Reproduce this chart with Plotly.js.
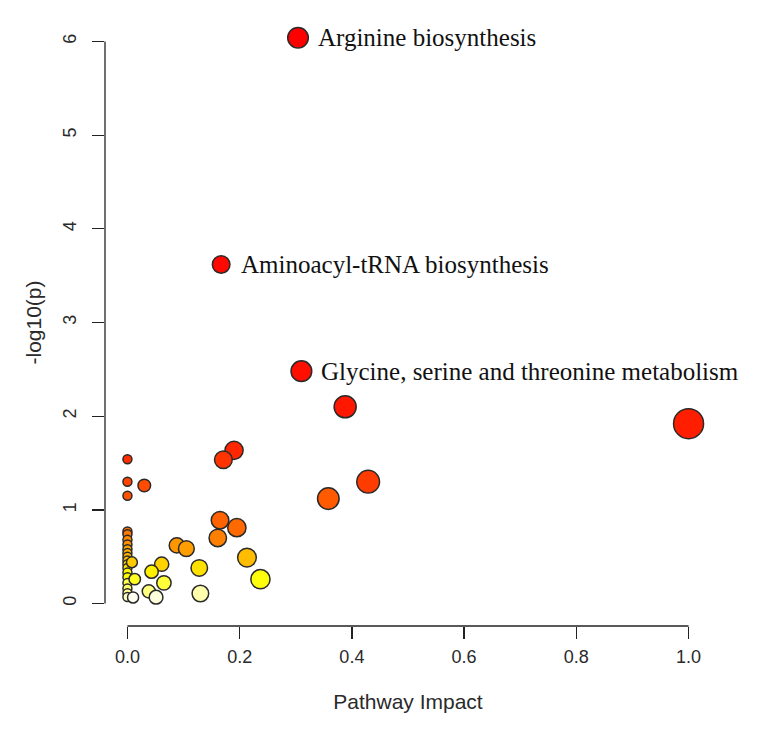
<!DOCTYPE html>
<html>
<head>
<meta charset="utf-8">
<script src="https://cdn.plot.ly/plotly-3.0.1.min.js"></script>
<style>html,body{margin:0;padding:0;background:#fff;}#chart{width:760px;height:734px;}</style>
</head>
<body>
<div id="chart"></div>
<script>
// Pathway impact (x) and -log10(p) (y) for each pathway
const pathwayImpact = [
  0.304, 0.167, 0.310, 0.388, 1.000, 0.190, 0.171, 0.429, 0.358, 0.030,
  0.165, 0.195, 0.161, 0.088, 0.105, 0.213, 0.128, 0.061, 0.043, 0.237,
  0.065, 0.038, 0.130, 0.051,
  0, 0, 0, 0, 0, 0, 0, 0, 0, 0, 0, 0, 0, 0, 0, 0, 0, 0, 0,
  0.008, 0.013, 0.010
];
const negLogP = [
  6.04, 3.62, 2.48, 2.10, 1.92, 1.635, 1.535, 1.30, 1.12, 1.26,
  0.89, 0.81, 0.70, 0.62, 0.586, 0.49, 0.38, 0.42, 0.34, 0.26,
  0.22, 0.13, 0.107, 0.067,
  1.54, 1.30, 1.15, 0.77, 0.74, 0.68, 0.63, 0.58, 0.54, 0.50, 0.46, 0.42, 0.38, 0.33, 0.28, 0.22, 0.16, 0.11, 0.07,
  0.44, 0.26, 0.065
];
const labeledNames = ["Arginine biosynthesis", "Aminoacyl-tRNA biosynthesis", "Glycine, serine and threonine metabolism"];
const labeledIndex = [0, 1, 2];
const xTicks = [0, 0.2, 0.4, 0.6, 0.8, 1.0];
const xTickText = ["0.0", "0.2", "0.4", "0.6", "0.8", "1.0"];
const yTicks = [0, 1, 2, 3, 4, 5, 6];

// R's heat.colors(n)
function hsv2hex(h, s, v) {
  const i = Math.floor(h * 6) % 6, f = h * 6 - Math.floor(h * 6);
  const p = v * (1 - s), q = v * (1 - f * s), t = v * (1 - (1 - f) * s);
  const rgb = [[v,t,p],[q,v,p],[p,v,t],[p,q,v],[t,p,v],[v,p,q]][i];
  const hx = c => Math.round(c * 255).toString(16).padStart(2, "0");
  return "#" + hx(rgb[0]) + hx(rgb[1]) + hx(rgb[2]);
}
function heatColors(n) {
  const j = Math.floor(n / 4), i = n - j, out = [];
  for (let k = 0; k < i; k++) out.push(hsv2hex(i > 1 ? (k / (i - 1)) / 6 : 0, 1, 1));
  for (let k = 0; k < j; k++) {
    const s0 = 1 - 1 / (2 * j), s1 = 1 / (2 * j);
    const s = j > 1 ? s0 + (s1 - s0) * k / (j - 1) : s0;
    out.push(hsv2hex(1 / 6, s, 1));
  }
  return out;
}
const n = negLogP.length;
const pal = heatColors(n);
const order = negLogP.map((v, i) => i).sort((a, b) => negLogP[b] - negLogP[a]);
const colors = new Array(n);
order.forEach((idx, rank) => { colors[idx] = pal[rank]; });
const sizes = pathwayImpact.map(v => 2 * (4.5 + 10.5 * Math.sqrt(v)));

const trace = {
  type: "scatter", mode: "markers",
  x: pathwayImpact, y: negLogP,
  marker: { color: colors, size: sizes, opacity: 1, line: { color: "#2a2a2a", width: 1.5 } },
  hoverinfo: "x+y", cliponaxis: false
};

const annotations = labeledIndex.map((idx, k) => ({
  x: pathwayImpact[idx], y: negLogP[idx], xref: "x", yref: "y",
  text: labeledNames[k], showarrow: false, xanchor: "left", yanchor: "middle",
  xshift: 18, yshift: 0,
  font: { family: "Liberation Serif, Times New Roman, serif", size: 25, color: "#111" }
}));

const tickFont = { family: "Liberation Sans, Arial, sans-serif", size: 18, color: "#2a2a2a" };
const titleFont = { family: "Liberation Sans, Arial, sans-serif", size: 21, color: "#2a2a2a" };
const layout = {
  width: 760, height: 734,
  margin: { l: 105, r: 48.5, t: 18.5, b: 107.5 },
  paper_bgcolor: "#fff", plot_bgcolor: "#fff",
  showlegend: false,
  font: tickFont,
  xaxis: {
    range: [-0.04, 1.04], tickvals: xTicks, ticktext: xTickText,
    showgrid: false, zeroline: false, showline: false,
    ticks: "outside", ticklen: 12, tickwidth: 1.3, tickcolor: "#222",
    tickfont: tickFont, ticklabelstandoff: 2,
    title: { text: "Pathway Impact", font: titleFont, standoff: 28 }
  },
  yaxis: {
    range: [-0.24, 6.24], tickvals: yTicks,
    showgrid: false, zeroline: false, showline: false,
    ticks: "outside", ticklen: 12, tickwidth: 1.3, tickcolor: "#222",
    tickangle: -90, tickfont: tickFont, ticklabelstandoff: 9,
    title: { text: "-log10(p)", font: titleFont, standoff: 12 }
  },
  shapes: [
    { type: "line", xref: "paper", yref: "y", x0: 0, x1: 0, y0: yTicks[0], y1: yTicks[yTicks.length - 1], line: { color: "#222", width: 1.3 } },
    { type: "line", xref: "x", yref: "paper", x0: xTicks[0], x1: xTicks[xTicks.length - 1], y0: 0, y1: 0, line: { color: "#222", width: 1.3 } }
  ],
  annotations: annotations
};

Plotly.newPlot("chart", [trace], layout, { displayModeBar: false, staticPlot: true });
</script>
</body>
</html>
